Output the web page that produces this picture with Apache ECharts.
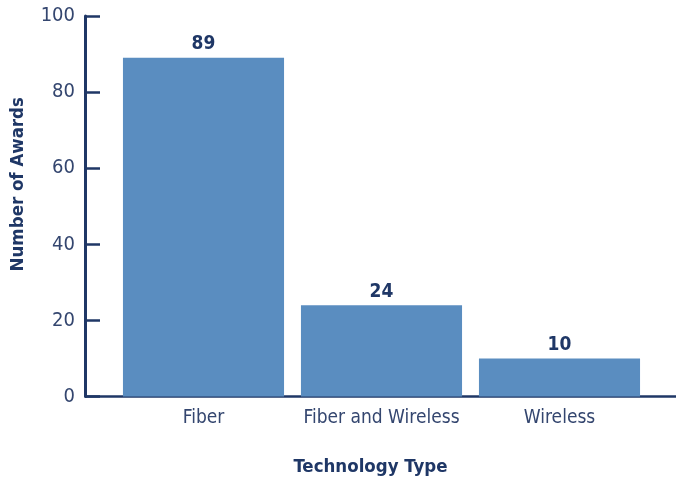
<!DOCTYPE html>
<html>
<head>
<meta charset="utf-8">
<script src="https://cdn.jsdelivr.net/npm/echarts@6/dist/echarts.min.js"></script>
<style>
html,body{margin:0;padding:0;background:#fff;}
#chart{width:676px;height:479px;}
</style>
</head>
<body>
<div id="chart"></div>
<script>
const categories = ['Fiber', 'Fiber and Wireless', 'Wireless'];
const awards = [89, 24, 10];
const yTicks = [0, 20, 40, 60, 80, 100];

const FONT = '"DejaVu Sans Condensed", "Liberation Sans Narrow", "Roboto", sans-serif';
const NAVY = '#1f3766';
const chart = echarts.init(document.getElementById('chart'), null, {renderer: 'canvas'});

const option = {
  backgroundColor: '#ffffff',
  animation: false,
  grid: {left: 114.5, right: 27.5, top: 16, bottom: 82.5, containLabel: false, outerBoundsMode: 'none'},
  xAxis: {
    type: 'category',
    data: categories,
    name: 'Technology Type',
    nameLocation: 'middle',
    nameGap: 61,
    nameTextStyle: {fontFamily: FONT, fontSize: 18.5, fontWeight: 'bold', color: NAVY, padding: [0, 22, 0, 0]},
    axisLine: {show: false},
    axisTick: {show: false},
    axisLabel: {interval: 0, fontFamily: FONT, fontSize: 19, color: '#34466f', margin: 12}
  },
  yAxis: {
    type: 'value',
    min: 0, max: 100, interval: 20,
    offset: 29.5,
    name: 'Number of Awards',
    nameLocation: 'middle',
    nameGap: 57,
    nameRotate: 90,
    nameTextStyle: {fontFamily: FONT, fontSize: 18.5, fontWeight: 'bold', color: NAVY, padding: [0, 0, 0, 44]},
    axisLine: {show: true, lineStyle: {color: NAVY, width: 3}},
    axisTick: {show: true, inside: true, length: 15, lineStyle: {color: NAVY, width: 2.5}},
    axisLabel: {
      fontFamily: FONT, fontSize: 20, color: '#34466f', margin: 10,
      formatter: v => yTicks.includes(v) ? String(v) : ''
    },
    splitLine: {show: false}
  },
  series: [{
    type: 'bar',
    data: awards,
    barCategoryGap: '9.5%',
    itemStyle: {color: '#5a8dc0'},
    label: {show: true, position: 'top', distance: 4, fontFamily: FONT, fontSize: 19, color: NAVY, fontWeight: 'bold'},
    z: 2
  }]
};
chart.setOption(option);

const y0 = chart.convertToPixel({yAxisIndex: 0}, 0);
chart.setOption({
  graphic: [{
    type: 'line',
    z: 1,
    shape: {x1: 85, y1: y0, x2: 676, y2: y0},
    style: {stroke: NAVY, lineWidth: 2.5}
  }]
});
</script>
</body>
</html>
